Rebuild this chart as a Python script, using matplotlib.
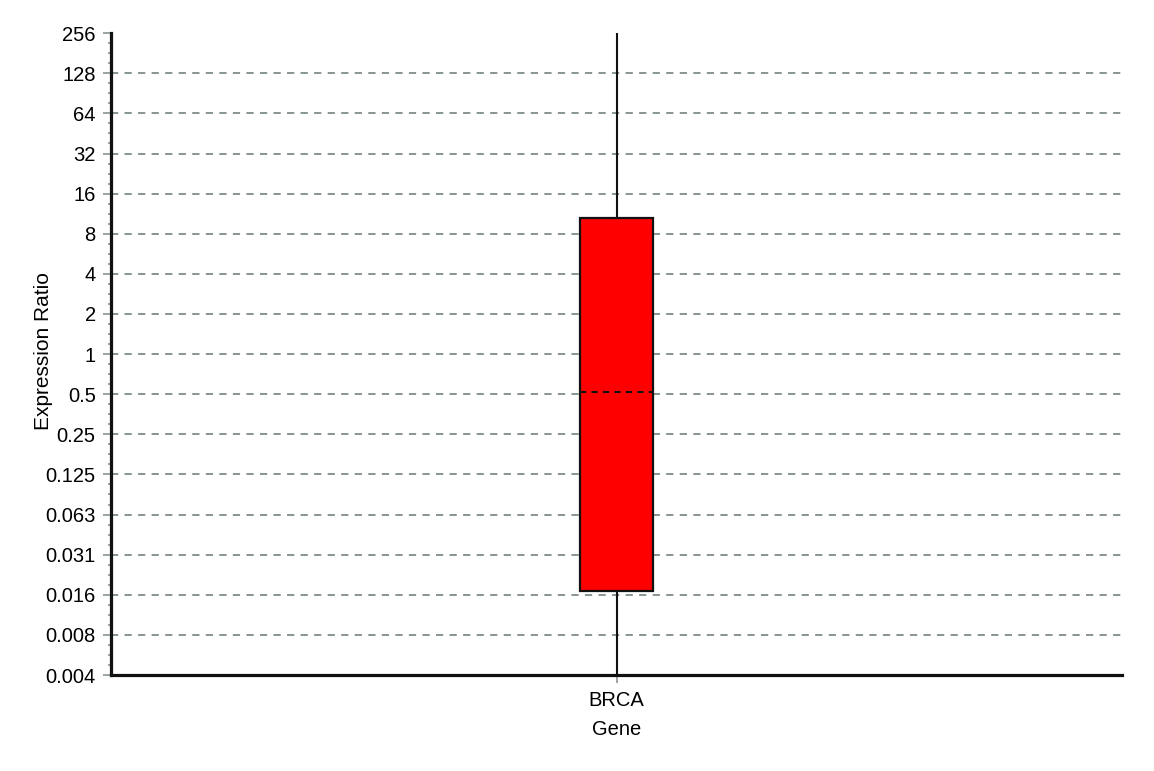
import numpy as np
import matplotlib; matplotlib.use("Agg"); import matplotlib.pyplot as plt
from matplotlib.ticker import NullFormatter

plt.rcParams["font.family"] = ["Liberation Sans", "DejaVu Sans"]

genes = ["BRCA"]
q1 = [0.0166]; q3 = [10.5]; med = [0.52]; lo = [0.004]; hi = [256]
ytick_vals = [2.0 ** k for k in range(-8, 9)]
ytick_labels = ["0.004", "0.008", "0.016", "0.031", "0.063", "0.125", "0.25", "0.5",
                "1", "2", "4", "8", "16", "32", "64", "128", "256"]

fig = plt.figure(figsize=(11.54, 7.71), dpi=100)
ax = fig.add_axes([0.0962, 0.1245, 0.8761, 0.8325])
stats = [dict(med=m, q1=a, q3=b, whislo=l, whishi=h, label=g)
         for g, a, b, m, l, h in zip(genes, q1, q3, med, lo, hi)]
ax.bxp(stats, positions=[1], widths=0.146, showcaps=False, showfliers=False, patch_artist=True,
       boxprops=dict(facecolor="#ff0000", edgecolor="#111111", linewidth=1.6),
       whiskerprops=dict(color="#111111", linewidth=1.5),
       medianprops=dict(color="#111111", linewidth=1.5, linestyle=(0, (3, 2.5))))
ax.set_yscale("log", base=2)
ax.set_ylim(ytick_vals[0], ytick_vals[-1]); ax.set_xlim(0, 2)
ax.set_yticks(ytick_vals); ax.set_yticklabels(ytick_labels)
ax.set_yticks([2.0 ** (k + f) for k in range(-8, 8) for f in (0.25, 0.5, 0.75)], minor=True)
ax.yaxis.set_minor_formatter(NullFormatter())
ax.set_xticks([1]); ax.set_xticklabels(genes)
for v in ytick_vals[1:-1]:
    ax.axhline(v, color="#7f8c8a", lw=1.3, ls=(0, (4, 3.5)), zorder=0)
ax.tick_params(axis="y", which="major", length=5.5, width=1.2, color="#8a9694", labelsize=14.5, pad=5.5)
ax.tick_params(axis="y", which="minor", length=2.5, width=1.2, color="#8a9694")
ax.tick_params(axis="x", length=6, width=1.2, color="#8a9694", labelsize=14.5, pad=5.5, direction="out")
for s in ("top", "right"): ax.spines[s].set_visible(False)
for s in ("left", "bottom"): ax.spines[s].set_linewidth(2.3); ax.spines[s].set_color("#111111")
ax.set_ylabel("Expression Ratio", fontsize=15)
ax.yaxis.set_label_coords(-0.057, 0.505)
ax.set_xlabel("Gene", fontsize=14.5, labelpad=7)
plt.savefig("out.png", dpi=100)
